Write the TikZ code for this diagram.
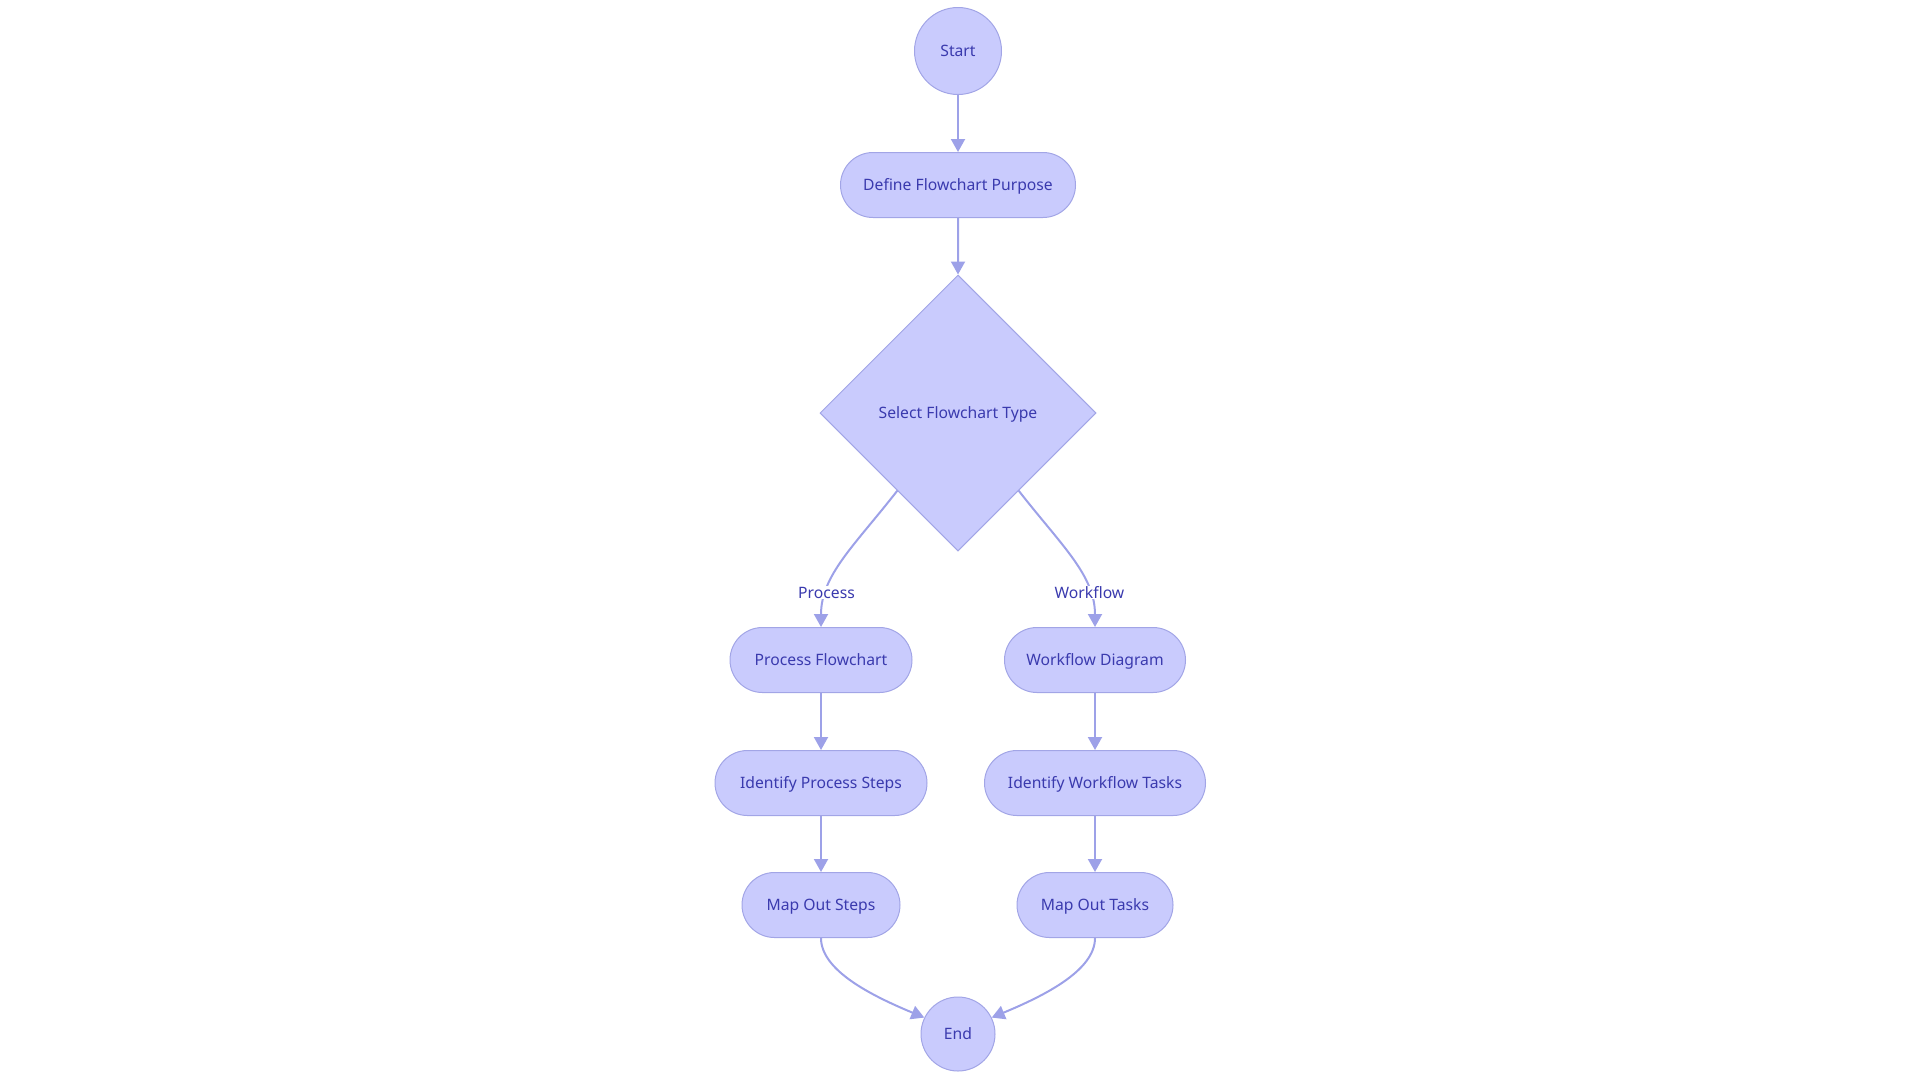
\documentclass[tikz,border=0pt]{standalone}
\usepackage{fontspec}
\setmainfont{Noto Sans}
\usepackage{tikz}
\usetikzlibrary{shapes.geometric,shapes.misc,arrows.meta}
\definecolor{boxfill}{HTML}{C9CBFD}
\definecolor{boxline}{HTML}{A2A5E6}
\definecolor{edgeline}{HTML}{9DA1E8}
\definecolor{boxtext}{HTML}{3A3AAE}

\tikzset{
  base/.style={draw=boxline, fill=boxfill, text=boxtext, line width=1pt,
    font=\fontsize{15.7}{19}\selectfont, inner sep=0pt,
    text height=11.2pt, text depth=0pt},
  terminal/.style={base, circle},
  pill/.style={base, rounded rectangle, minimum height=65pt},
  choice/.style={base, diamond, minimum width=276pt, minimum height=276pt},
  edge/.style={draw=edgeline, line width=2pt,
    -{Triangle[length=13pt,width=14pt]}},
  lbl/.style={fill=white, text=boxtext, font=\fontsize{15.7}{19}\selectfont,
    inner sep=1pt, text height=11.2pt, text depth=0pt}
}

\begin{document}
\begin{tikzpicture}[x=1pt,y=1pt]
\useasboundingbox (0,0) rectangle (1920,-1080);

% nodes
\node[terminal, minimum size=87pt] (start) at (958,-51) {Start};
\node[pill, minimum width=235pt] (define) at (958,-185) {Define Flowchart Purpose};
\node[choice] (select) at (958,-413) {Select Flowchart Type};

\node[pill, minimum width=182pt] (procflow) at (821,-660) {Process Flowchart};
\node[pill, minimum width=212pt] (idsteps) at (821,-783) {Identify Process Steps};
\node[pill, minimum width=158pt] (mapsteps) at (821,-905) {Map Out Steps};

\node[pill, minimum width=181pt] (workflow) at (1095,-660) {Workflow Diagram};
\node[pill, minimum width=221pt] (idtasks) at (1095,-783) {Identify Workflow Tasks};
\node[pill, minimum width=156pt] (maptasks) at (1095,-905) {Map Out Tasks};

\node[terminal, minimum size=74pt] (end) at (958,-1034) {End};

% connectors
\draw[edge] (start) -- (define);
\draw[edge] (define) -- (select);

\draw[edge] (select.-128) .. controls (855,-545) and (821,-575) .. (procflow.north)
  node[lbl, pos=0.76] {Process};
\draw[edge] (select.-52) .. controls (1061,-545) and (1095,-575) .. (workflow.north)
  node[lbl, pos=0.76] {Workflow};

\draw[edge] (procflow) -- (idsteps);
\draw[edge] (idsteps) -- (mapsteps);
\draw[edge] (workflow) -- (idtasks);
\draw[edge] (idtasks) -- (maptasks);

\draw[edge] (mapsteps.south) .. controls (821,-970) and (870,-995) .. (end.154);
\draw[edge] (maptasks.south) .. controls (1095,-970) and (1046,-995) .. (end.26);
\end{tikzpicture}
\end{document}
